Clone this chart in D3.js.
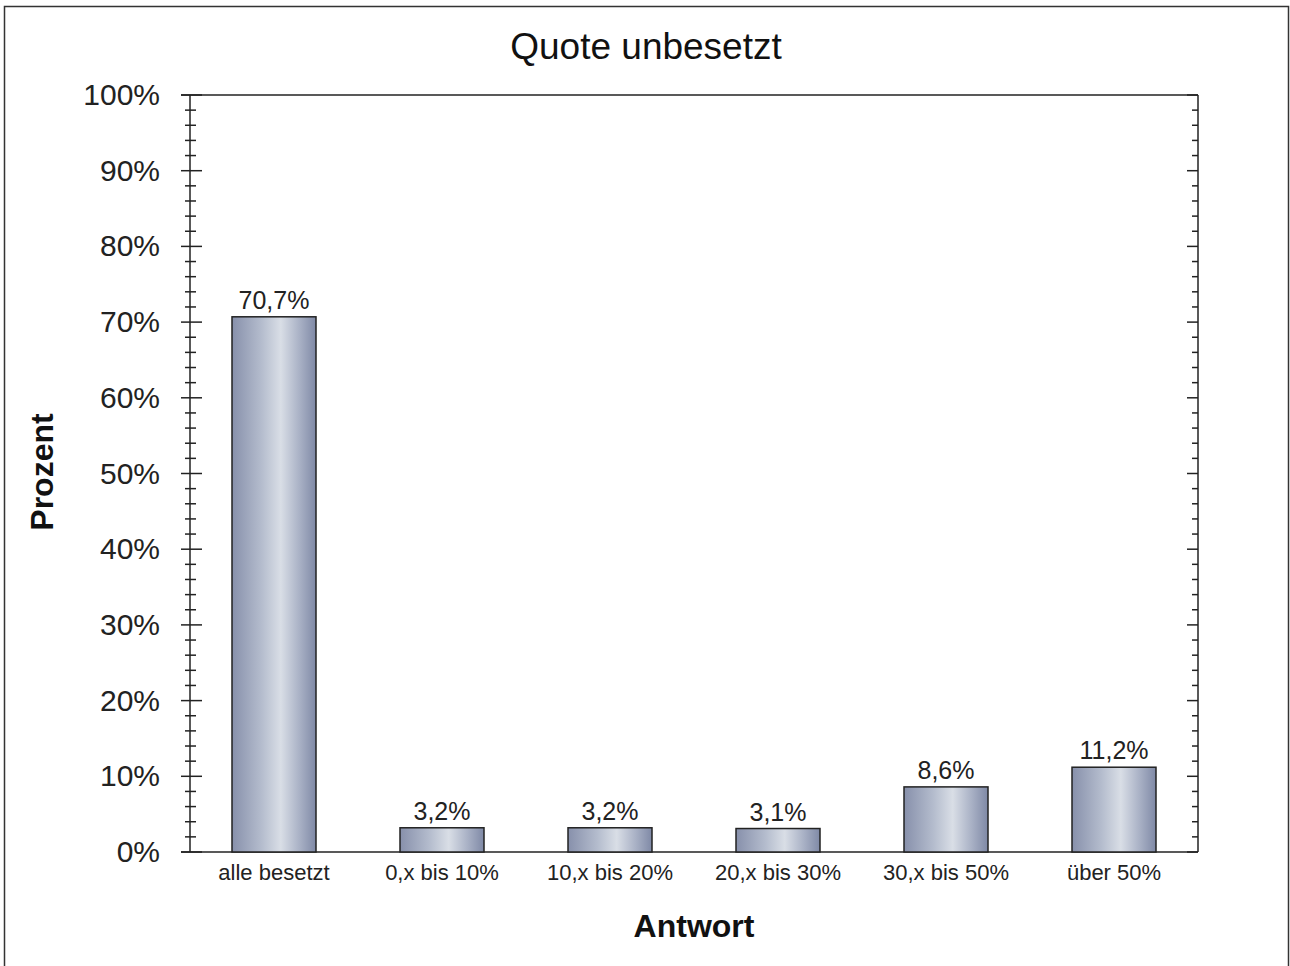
<!DOCTYPE html>
<html><head><meta charset="utf-8">
<script src="https://cdn.jsdelivr.net/npm/d3@7"></script>
<style>body{margin:0;background:#fff;} svg{display:block;font-family:"Liberation Sans",Arial,sans-serif;}</style>
</head><body>
<script>
const categories = ["alle besetzt","0,x bis 10%","10,x bis 20%","20,x bis 30%","30,x bis 50%","über 50%"];
const values = [70.7, 3.2, 3.2, 3.1, 8.6, 11.2];
const valueLabels = ["70,7%","3,2%","3,2%","3,1%","8,6%","11,2%"];
const yTicks = [0,10,20,30,40,50,60,70,80,90,100];
const title = "Quote unbesetzt";
const xTitle = "Antwort";
const yTitle = "Prozent";

const W = 1290, H = 966;
const m = {left:190, right:1198, top:95, bottom:852};
const svg = d3.select("body").append("svg").attr("width",W).attr("height",H);

const defs = svg.append("defs");
const g = defs.append("linearGradient").attr("id","barGrad").attr("x1","0").attr("x2","1").attr("y1","0").attr("y2","0");
g.append("stop").attr("offset","0%").attr("stop-color","#8790ab");
g.append("stop").attr("offset","35%").attr("stop-color","#b4bccd");
g.append("stop").attr("offset","58%").attr("stop-color","#d9dee6");
g.append("stop").attr("offset","80%").attr("stop-color","#aab2c6");
g.append("stop").attr("offset","100%").attr("stop-color","#7f89a6");

// outer border
svg.append("rect").attr("x",4.5).attr("y",6.5).attr("width",1284).attr("height",970).attr("fill","none").attr("stroke","#333").attr("stroke-width",1.5);

const x = d3.scaleBand().domain(categories).range([m.left,m.right]).paddingInner(0.5).paddingOuter(0.25);
const y = d3.scaleLinear().domain([0,100]).range([m.bottom,m.top]);

const frame = svg.append("g").attr("stroke","#222").attr("stroke-width",1.5);
frame.append("line").attr("x1",181).attr("x2",m.right).attr("y1",m.top).attr("y2",m.top);
frame.append("line").attr("x1",181).attr("x2",m.right).attr("y1",m.bottom).attr("y2",m.bottom);
frame.append("line").attr("x1",m.right).attr("x2",m.right).attr("y1",m.top).attr("y2",m.bottom);
frame.append("line").attr("x1",m.left).attr("x2",m.left).attr("y1",m.top).attr("y2",m.bottom);

const minor = d3.range(0,101,2).filter(v=>v%10!==0);
frame.append("g").selectAll("line").data(yTicks).join("line")
  .attr("x1",181).attr("x2",202).attr("y1",d=>y(d)).attr("y2",d=>y(d));
frame.append("g").selectAll("line").data(minor).join("line")
  .attr("x1",185).attr("x2",196).attr("y1",d=>y(d)).attr("y2",d=>y(d));
frame.append("g").selectAll("line").data(yTicks).join("line")
  .attr("x1",m.right-11).attr("x2",m.right).attr("y1",d=>y(d)).attr("y2",d=>y(d));
frame.append("g").selectAll("line").data(minor).join("line")
  .attr("x1",m.right-6).attr("x2",m.right).attr("y1",d=>y(d)).attr("y2",d=>y(d));

// y tick labels
svg.append("g").selectAll("text").data(yTicks).join("text")
  .attr("x",160).attr("y",d=>y(d)+10).attr("text-anchor","end").attr("font-size",30).attr("fill","#222")
  .text(d=>d+"%");

// bars
svg.append("g").selectAll("rect").data(values).join("rect")
  .attr("x",(d,i)=>x(categories[i])).attr("width",x.bandwidth())
  .attr("y",d=>y(d)).attr("height",d=>y(0)-y(d))
  .attr("fill","url(#barGrad)").attr("stroke","#222").attr("stroke-width",1.5);

// value labels
svg.append("g").selectAll("text").data(values).join("text")
  .attr("x",(d,i)=>x(categories[i])+x.bandwidth()/2).attr("y",d=>y(d)-8)
  .attr("text-anchor","middle").attr("font-size",25).attr("fill","#222")
  .text((d,i)=>valueLabels[i]);

// category labels
svg.append("g").selectAll("text").data(categories).join("text")
  .attr("x",d=>x(d)+x.bandwidth()/2).attr("y",880)
  .attr("text-anchor","middle").attr("font-size",22).attr("fill","#222").text(d=>d);

svg.append("text").attr("x",646).attr("y",59).attr("text-anchor","middle").attr("font-size",37).attr("fill","#111").text(title);
svg.append("text").attr("x",694).attr("y",937).attr("text-anchor","middle").attr("font-size",32).attr("font-weight","bold").attr("fill","#111").text(xTitle);
svg.append("text").attr("transform","translate(53,472) rotate(-90)").attr("text-anchor","middle").attr("font-size",32).attr("font-weight","bold").attr("fill","#111").text(yTitle);
</script>
</body></html>
